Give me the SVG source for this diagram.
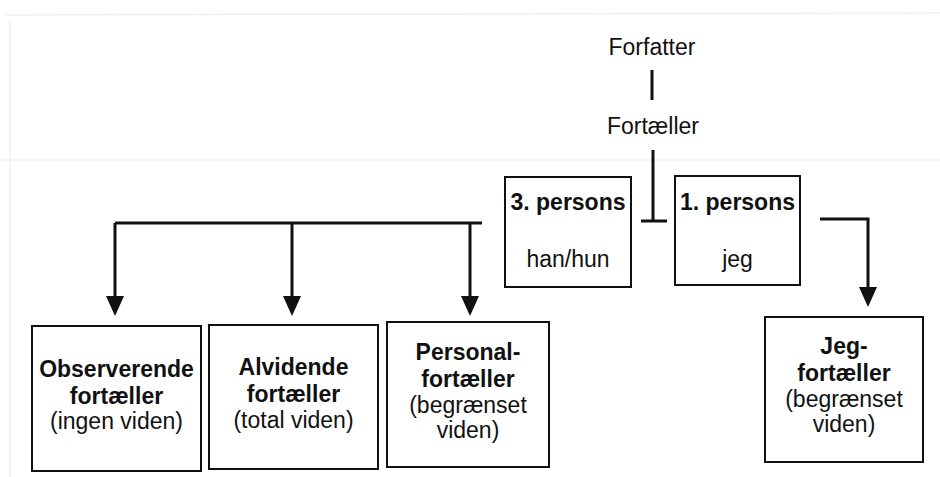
<svg xmlns="http://www.w3.org/2000/svg" width="940" height="477" viewBox="0 0 940 477">
<style>
  .box { fill: #ffffff; stroke: #111111; stroke-width: 2; }
  .t { font-family: "Liberation Sans", Arial, sans-serif; font-size: 23px; fill: #111111; text-anchor: middle; }
  .b { font-weight: bold; }
  .ln { fill: none; stroke: #111111; stroke-width: 3; }
  .scan { fill: none; stroke: #ececec; stroke-width: 1.2; }
</style>
<rect x="0" y="0" width="940" height="477" fill="#ffffff"/>
<g id="scan-marks">
  <path class="scan" d="M5,15 L940,13"/>
  <path class="scan" d="M10,20 L10,477"/>
  <path class="scan" d="M0,160 L940,160"/>
</g>
<g id="connectors">
  <path class="ln" d="M652,70 L652,100"/>
  <path class="ln" d="M653,150 L653,221"/>
  <path class="ln" d="M641,221 L667,221"/>
  <path class="ln" d="M115,223 L482,223"/>
  <path class="ln" d="M115,223 L115,297"/>
  <path fill="#111111" d="M106,296 L124,296 L115,316 Z"/>
  <path class="ln" d="M292,223 L292,297"/>
  <path fill="#111111" d="M283,296 L301,296 L292,316 Z"/>
  <path class="ln" d="M470,223 L470,297"/>
  <path fill="#111111" d="M461,296 L479,296 L470,316 Z"/>
  <path class="ln" d="M820,219 L868,219 L868,288"/>
  <path fill="#111111" d="M859,287 L877,287 L868,307 Z"/>
</g>
<g id="forfatter">
  <text class="t" x="652" y="55">Forfatter</text>
</g>
<g id="fortaeller">
  <text class="t" x="653" y="134">Fortæller</text>
</g>
<g id="tredje-person">
  <rect class="box" x="505" y="177" width="126" height="110"/>
  <text class="t b" x="568" y="210">3. persons</text>
  <text class="t" x="568" y="267">han/hun</text>
</g>
<g id="foerste-person">
  <rect class="box" x="675" y="176" width="125" height="109"/>
  <text class="t b" x="737.5" y="210">1. persons</text>
  <text class="t" x="737.5" y="267">jeg</text>
</g>
<g id="observerende">
  <rect class="box" x="32" y="326" width="169" height="145"/>
  <text class="t b" x="116.5" y="377">Observerende</text>
  <text class="t b" x="116.5" y="404">fortæller</text>
  <text class="t" x="116.5" y="429">(ingen viden)</text>
</g>
<g id="alvidende">
  <rect class="box" x="209" y="325" width="169" height="144"/>
  <text class="t b" x="293.5" y="375">Alvidende</text>
  <text class="t b" x="293.5" y="402">fortæller</text>
  <text class="t" x="293.5" y="428">(total viden)</text>
</g>
<g id="personal">
  <rect class="box" x="387" y="322" width="162" height="145"/>
  <text class="t b" x="468" y="360">Personal-</text>
  <text class="t b" x="468" y="387">fortæller</text>
  <text class="t" x="468" y="413">(begrænset</text>
  <text class="t" x="468" y="438">viden)</text>
</g>
<g id="jeg">
  <rect class="box" x="765" y="317" width="158" height="145"/>
  <text class="t b" x="844" y="354">Jeg-</text>
  <text class="t b" x="844" y="381">fortæller</text>
  <text class="t" x="844" y="407">(begrænset</text>
  <text class="t" x="844" y="432">viden)</text>
</g>
</svg>
